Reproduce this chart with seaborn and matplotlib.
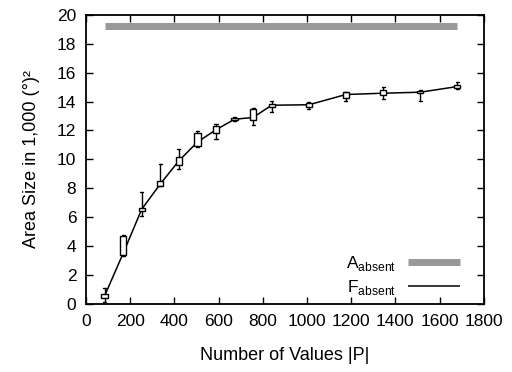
import numpy as np
import pandas as pd
import matplotlib.pyplot as plt
import seaborn as sns

# 값 읽기 (그림에서 추정)
sizes = [84, 168, 252, 336, 420, 504, 588, 672, 756, 840, 1008, 1176, 1344, 1512, 1680]
area_mid = [0.55, 3.5, 6.55, 8.3, 9.9, 11.2, 12.05, 12.78, 12.9, 13.75, 13.78, 14.49, 14.58, 14.65, 15.04]
box_lo = [0.44, 3.39, 6.45, 8.19, 9.62, 10.93, 11.81, 12.7, 12.73, 13.65, 13.66, 14.28, 14.46, 14.58, 14.93]
box_hi = [0.67, 4.73, 6.64, 8.51, 10.15, 11.85, 12.34, 12.85, 13.49, 13.84, 13.89, 14.69, 14.81, 14.76, 15.16]
whis_lo = [0.1, 3.3, 6.09, 8.15, 9.34, 10.88, 11.4, 12.65, 12.39, 13.26, 13.5, 14.07, 14.17, 14.07, 14.9]
whis_hi = [1.08, 4.75, 7.75, 9.69, 10.73, 11.99, 12.46, 12.9, 13.58, 14.05, 14.0, 14.69, 15.04, 14.81, 15.36]

a_absent_x = [84, 1680]
a_absent_y = [19.25, 19.25]

sns.set_style('ticks')
plt.rcParams['font.family'] = ['Liberation Sans', 'DejaVu Sans']
plt.rcParams['mathtext.fontset'] = 'custom'
plt.rcParams['mathtext.rm'] = 'Liberation Sans'
plt.rcParams['font.size'] = 12.5
for k in ['text.color', 'axes.labelcolor', 'xtick.color', 'ytick.color', 'axes.edgecolor']:
    plt.rcParams[k] = 'black'

df = pd.DataFrame({'size': sizes, 'area': area_mid})

fig = plt.figure(figsize=(5.12, 3.72), dpi=100)
ax = fig.add_axes([0.168, 0.183, 0.777, 0.777])

sns.lineplot(x=a_absent_x, y=a_absent_y, color='#999999', linewidth=5,
             solid_capstyle='butt', label=r'A$_{\mathregular{absent}}$', ax=ax)
sns.lineplot(data=df, x='size', y='area', color='black', linewidth=1.1,
             label=r'F$_{\mathregular{absent}}$', ax=ax)

stats = []
for i in range(len(sizes)):
    stats.append({'med': area_mid[i], 'q1': box_lo[i], 'q3': box_hi[i],
                  'whislo': whis_lo[i], 'whishi': whis_hi[i], 'fliers': []})
ax.bxp(stats, positions=sizes, widths=28, showfliers=False, manage_ticks=False,
       patch_artist=True,
       boxprops=dict(facecolor='white', edgecolor='black', linewidth=1.0),
       whiskerprops=dict(color='black', linewidth=1.0),
       capprops=dict(color='black', linewidth=1.0),
       medianprops=dict(linewidth=0))

ax.set_xlim(0, 1800)
ax.set_ylim(0, 20)
ax.set_xticks(range(0, 1801, 200))
ax.set_yticks(range(0, 21, 2))
ax.tick_params(direction='in', length=5, width=1, top=True, right=True, pad=7)
for s in ax.spines.values():
    s.set_visible(True)
    s.set_linewidth(1.3)

ax.set_xlabel('Number of Values |P|', labelpad=13, fontsize=13)
ax.set_ylabel('Area Size in 1,000 (°)²', labelpad=12, fontsize=13)

leg = ax.legend(loc='lower right', bbox_to_anchor=(0.98, -0.03), frameon=False,
                markerfirst=False, handlelength=3.0, handletextpad=0.7, labelspacing=0.3)
for line in leg.get_lines():
    line.set_solid_capstyle('butt')

plt.savefig('out.png', dpi=100)
